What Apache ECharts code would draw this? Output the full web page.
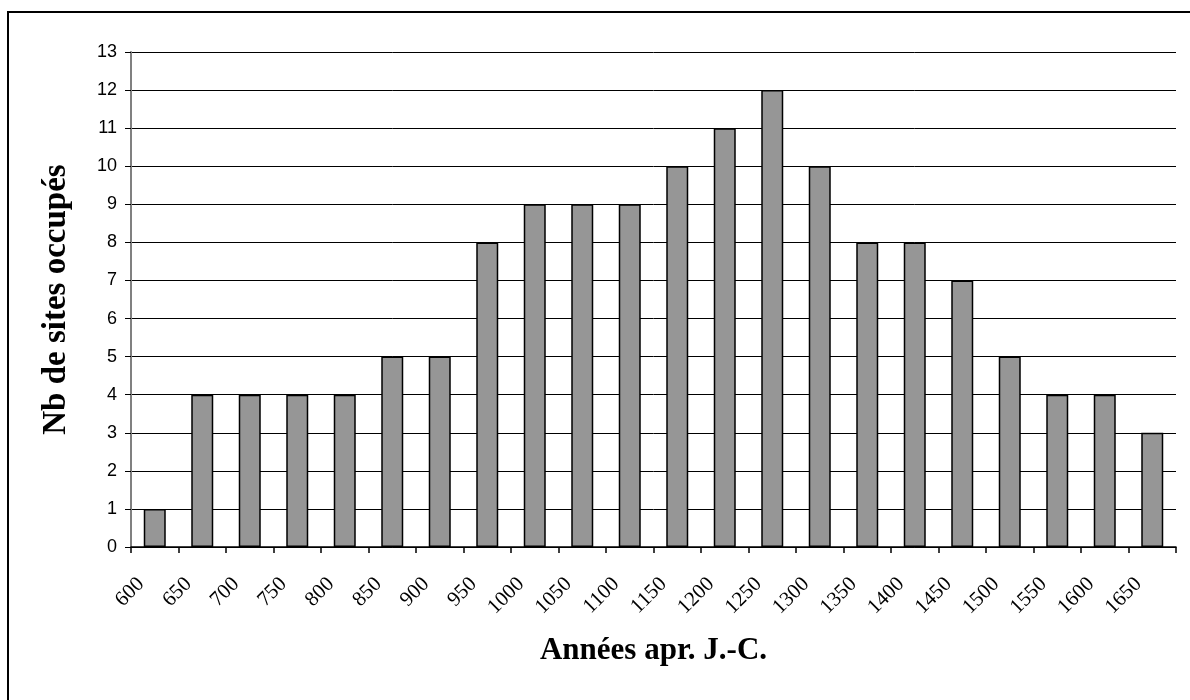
<!DOCTYPE html>
<html>
<head>
<meta charset="utf-8">
<title>Nb de sites occupés</title>
<script src="https://cdn.jsdelivr.net/npm/echarts@6/dist/echarts.min.js"></script>
<style>
  html, body { margin: 0; padding: 0; background: #fff; }
  #chart { width: 1190px; height: 700px; }
</style>
</head>
<body>
<div id="chart"></div>
<script>
// Occupied sites per 50-year period (AD)
const years = ['600', '650', '700', '750', '800', '850', '900', '950', '1000', '1050', '1100',
               '1150', '1200', '1250', '1300', '1350', '1400', '1450', '1500', '1550', '1600', '1650'];
const sites = [1, 4, 4, 4, 4, 5, 5, 8, 9, 9, 9, 10, 11, 12, 10, 8, 8, 7, 5, 4, 4, 3];
const yTicks = { min: 0, max: 13, step: 1 };

const chart = echarts.init(document.getElementById('chart'), null, { renderer: 'canvas' });

const serif = '"Liberation Serif", "Times New Roman", serif';
const sans = '"Liberation Sans", Arial, sans-serif';

chart.setOption({
  animation: false,
  backgroundColor: '#fff',
  grid: [
    { left: 131, right: 14, top: 52, bottom: 153, containLabel: false },
    // same plot width, nudged right: holds the rotated year labels
    { left: 141, right: 4, top: 52, bottom: 153, containLabel: false, show: false }
  ],
  graphic: [{
    type: 'rect',
    shape: { x: 8, y: 12, width: 1200, height: 700 },
    style: { fill: 'none', stroke: '#000', lineWidth: 2 },
    silent: true
  }],
  xAxis: [{
    // category axis carrying the bars, ticks at period boundaries
    type: 'category',
    gridIndex: 0,
    data: years,
    boundaryGap: true,
    axisLine: { lineStyle: { color: '#000', width: 1.5 } },
    axisTick: { show: true, inside: false, length: 6, lineStyle: { color: '#000', width: 1.5 } },
    axisLabel: { show: false },
    name: 'Années apr. J.-C.',
    nameLocation: 'middle',
    nameGap: 88,
    nameTextStyle: { fontFamily: serif, fontWeight: 'bold', fontSize: 31, color: '#000' }
  }, {
    // value axis used only to put the year labels on the boundaries
    type: 'value',
    gridIndex: 1,
    position: 'bottom',
    min: 0,
    max: years.length,
    interval: 1,
    axisLine: { show: false },
    axisTick: { show: false },
    splitLine: { show: false },
    axisLabel: {
      rotate: 45,
      margin: 34,
      fontFamily: serif,
      fontSize: 21,
      color: '#000',
      showMaxLabel: true,
      formatter: v => (years[v] !== undefined ? years[v] : '')
    }
  }],
  yAxis: [{
    type: 'value',
    gridIndex: 0,
    min: yTicks.min,
    max: yTicks.max,
    interval: yTicks.step,
    axisLine: { show: true, lineStyle: { color: '#808080', width: 2 } },
    axisTick: { show: true, inside: false, length: 6, lineStyle: { color: '#000', width: 1 } },
    axisLabel: { margin: 14, fontFamily: sans, fontSize: 18, color: '#000' },
    splitLine: { show: true, lineStyle: { color: '#000', width: 1 } },
    name: 'Nb de sites occupés',
    nameLocation: 'middle',
    nameGap: 58,
    nameTextStyle: { fontFamily: serif, fontWeight: 'bold', fontSize: 33, color: '#000' }
  }, {
    type: 'value',
    gridIndex: 1,
    show: false
  }],
  series: [{
    type: 'bar',
    xAxisIndex: 0,
    yAxisIndex: 0,
    data: sites,
    barWidth: 22,
    itemStyle: { color: '#969696', borderColor: '#000', borderWidth: 1.5 }
  }]
});
</script>
</body>
</html>
